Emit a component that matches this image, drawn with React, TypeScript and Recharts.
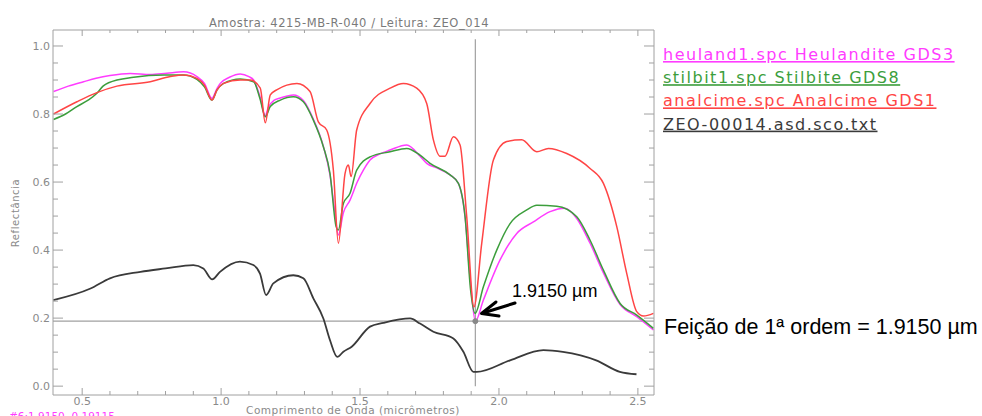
import React from 'react';
import { LineChart, Line, XAxis, YAxis, ReferenceLine, ReferenceDot } from 'recharts';

// ---------- data ----------
const heulandW = [0.397, 0.45, 0.505, 0.55, 0.6, 0.673, 0.745, 0.805, 0.865, 0.913, 0.94, 0.967, 0.985, 0.997, 1.03, 1.069, 1.1, 1.117, 1.14, 1.159, 1.17, 1.19, 1.213, 1.26, 1.296, 1.332, 1.368, 1.392, 1.408, 1.422, 1.44, 1.464, 1.49, 1.512, 1.536, 1.57, 1.608, 1.668, 1.716, 1.74, 1.78, 1.824, 1.854, 1.878, 1.898, 1.915, 1.944, 2.004, 2.064, 2.124, 2.184, 2.238, 2.28, 2.328, 2.376, 2.436, 2.496, 2.556];
const heulandR = [0.866, 0.882, 0.895, 0.905, 0.913, 0.919, 0.916, 0.92, 0.924, 0.91, 0.89, 0.846, 0.875, 0.89, 0.908, 0.918, 0.91, 0.9, 0.851, 0.795, 0.82, 0.84, 0.847, 0.856, 0.84, 0.785, 0.705, 0.62, 0.52, 0.444, 0.51, 0.547, 0.6, 0.635, 0.665, 0.682, 0.694, 0.709, 0.676, 0.655, 0.64, 0.621, 0.596, 0.498, 0.3, 0.191, 0.253, 0.371, 0.449, 0.483, 0.513, 0.523, 0.493, 0.42, 0.333, 0.24, 0.204, 0.165];

const stilbitW = [0.397, 0.44, 0.481, 0.52, 0.553, 0.575, 0.595, 0.685, 0.793, 0.865, 0.913, 0.94, 0.967, 0.985, 1.009, 1.069, 1.117, 1.14, 1.159, 1.177, 1.213, 1.26, 1.296, 1.332, 1.368, 1.392, 1.414, 1.422, 1.44, 1.464, 1.488, 1.536, 1.608, 1.668, 1.716, 1.752, 1.824, 1.854, 1.878, 1.898, 1.914, 1.944, 1.992, 2.04, 2.1, 2.136, 2.208, 2.28, 2.328, 2.376, 2.436, 2.496, 2.556];
const stilbitR = [0.784, 0.8, 0.822, 0.84, 0.861, 0.882, 0.892, 0.908, 0.915, 0.915, 0.902, 0.88, 0.841, 0.87, 0.89, 0.903, 0.895, 0.845, 0.792, 0.822, 0.841, 0.851, 0.836, 0.782, 0.704, 0.625, 0.469, 0.459, 0.537, 0.567, 0.635, 0.674, 0.689, 0.699, 0.679, 0.655, 0.621, 0.596, 0.498, 0.282, 0.214, 0.292, 0.4, 0.478, 0.518, 0.532, 0.529, 0.498, 0.429, 0.341, 0.243, 0.209, 0.17];

const analcimeW = [0.397, 0.481, 0.553, 0.625, 0.745, 0.817, 0.865, 0.913, 0.94, 0.967, 0.985, 1.009, 1.069, 1.105, 1.141, 1.159, 1.177, 1.2, 1.273, 1.32, 1.35, 1.38, 1.404, 1.422, 1.446, 1.458, 1.468, 1.488, 1.536, 1.608, 1.656, 1.704, 1.74, 1.764, 1.788, 1.806, 1.836, 1.86, 1.884, 1.91, 1.938, 1.98, 2.028, 2.082, 2.136, 2.178, 2.244, 2.328, 2.376, 2.424, 2.46, 2.496, 2.52, 2.556];
const analcimeR = [0.8, 0.836, 0.863, 0.882, 0.895, 0.91, 0.915, 0.905, 0.885, 0.841, 0.87, 0.89, 0.9, 0.9, 0.876, 0.774, 0.856, 0.871, 0.89, 0.866, 0.777, 0.753, 0.635, 0.42, 0.625, 0.65, 0.616, 0.753, 0.831, 0.876, 0.89, 0.876, 0.831, 0.724, 0.676, 0.676, 0.733, 0.709, 0.498, 0.233, 0.42, 0.665, 0.719, 0.724, 0.689, 0.699, 0.684, 0.64, 0.596, 0.469, 0.331, 0.219, 0.206, 0.214];

const sampleW = [0.396, 0.53, 0.6, 0.71, 0.8, 0.9, 0.936, 0.968, 0.996, 1.068, 1.116, 1.14, 1.162, 1.188, 1.26, 1.296, 1.332, 1.368, 1.392, 1.418, 1.44, 1.47, 1.536, 1.584, 1.68, 1.716, 1.764, 1.836, 1.872, 1.908, 1.92, 2.04, 2.16, 2.23, 2.35, 2.435, 2.495];
const sampleR = [0.253, 0.287, 0.317, 0.336, 0.346, 0.356, 0.346, 0.314, 0.336, 0.366, 0.356, 0.331, 0.268, 0.302, 0.326, 0.317, 0.258, 0.199, 0.135, 0.086, 0.101, 0.116, 0.175, 0.186, 0.199, 0.184, 0.16, 0.14, 0.101, 0.042, 0.042, 0.076, 0.106, 0.101, 0.076, 0.042, 0.035];

const xTicks = [0.5, 0.6, 0.7, 0.8, 0.9, 1.0, 1.1, 1.2, 1.3, 1.4, 1.5, 1.6, 1.7, 1.8, 1.9, 2.0, 2.1, 2.2, 2.3, 2.4, 2.5];
const yTicks = [0, 0.05, 0.1, 0.15, 0.2, 0.25, 0.3, 0.35, 0.4, 0.45, 0.5, 0.55, 0.6, 0.65, 0.7, 0.75, 0.8, 0.85, 0.9, 0.95, 1.0];

const featureW = 1.915;
const featureR = 0.19115;
const featureTop = 1.02;

const titleText = 'Amostra: 4215-MB-R-040 / Leitura: ZEO_014';
const xTitle = 'Comprimento de Onda (micrômetros)';
const yTitle = 'Reflectância';
const cursorText = '#6:1.9150, 0.19115';
const legendLabels = ['heuland1.spc Heulandite GDS3', 'stilbit1.spc Stilbite GDS8', 'analcime.spc Analcime GDS1', 'ZEO-00014.asd.sco.txt'];
const annotText = '1.9150 µm';
const featureText = 'Feição de 1ª ordem = 1.9150 µm';

// ---------- styles ----------
const COLORS = ['#ff3cff', '#3c9e3c', '#ff4545', '#3a3a3a'];
const AXIS = '#a0a0a0';
const LABEL = '#8a8a8a';
const VFONT = '"DejaVu Sans", sans-serif';

const zip = (w: number[], r: number[]) => w.map((v, i) => ({ w: v, r: r[i] }));
const series = [
  { name: 'heuland', data: zip(heulandW, heulandR) },
  { name: 'stilbit', data: zip(stilbitW, stilbitR) },
  { name: 'analcime', data: zip(analcimeW, analcimeR) },
  { name: 'sample', data: zip(sampleW, sampleR) },
];

const isXMajor = (v: number) => Math.abs(v * 2 - Math.round(v * 2)) < 1e-6;
const isYMajor = (v: number) => Math.abs(v * 5 - Math.round(v * 5)) < 1e-6;

const BottomTick = (p: any) => {
  const v = p.payload.value;
  const m = isXMajor(v);
  return (
    <g>
      <line x1={p.x} x2={p.x} y1={p.y} y2={p.y - (m ? 7 : 4)} stroke={AXIS} />
      {m && (
        <text x={p.x} y={p.y + 10} textAnchor="middle" fontSize={11} fill={LABEL} fontFamily={VFONT}>
          {v.toFixed(1)}
        </text>
      )}
    </g>
  );
};
const TopTick = (p: any) => {
  const m = isXMajor(p.payload.value);
  return <line x1={p.x} x2={p.x} y1={p.y} y2={p.y + (m ? 6 : 3)} stroke={AXIS} />;
};
const LeftTick = (p: any) => {
  const v = p.payload.value;
  const m = isYMajor(v);
  return (
    <g>
      <line x1={p.x} x2={p.x + (m ? 10 : 5)} y1={p.y} y2={p.y} stroke={AXIS} />
      {m && (
        <text x={p.x - 3} y={p.y + 4} textAnchor="end" fontSize={11} fill={LABEL} fontFamily={VFONT}>
          {v.toFixed(1)}
        </text>
      )}
    </g>
  );
};
const RightTick = (p: any) => {
  const m = isYMajor(p.payload.value);
  return <line x1={p.x} x2={p.x - (m ? 10 : 5)} y1={p.y} y2={p.y} stroke={AXIS} />;
};

export default function App() {
  return (
    <div style={{ position: 'absolute', left: 0, top: 0, width: 982, height: 416, overflow: 'hidden', background: '#fff' }}>
      <LineChart width={982} height={416} margin={{ top: 20, right: 318, bottom: 0, left: 0 }}>
        <XAxis
          xAxisId="b"
          type="number"
          dataKey="w"
          domain={[0.395, 2.558]}
          allowDataOverflow
          ticks={xTicks}
          interval={0}
          height={21}
          tickSize={0}
          tickMargin={0}
          tickLine={false}
          axisLine={{ stroke: AXIS }}
          tick={BottomTick}
        />
        <XAxis
          xAxisId="t"
          orientation="top"
          type="number"
          dataKey="w"
          domain={[0.395, 2.558]}
          allowDataOverflow
          ticks={xTicks}
          interval={0}
          height={10}
          tickSize={0}
          tickMargin={0}
          tickLine={false}
          axisLine={{ stroke: AXIS }}
          tick={TopTick}
        />
        <YAxis
          yAxisId="l"
          type="number"
          domain={[-0.026, 1.047]}
          allowDataOverflow
          ticks={yTicks}
          interval={0}
          width={53}
          tickSize={0}
          tickMargin={0}
          tickLine={false}
          axisLine={{ stroke: AXIS }}
          tick={LeftTick}
        />
        <YAxis
          yAxisId="r"
          orientation="right"
          type="number"
          domain={[-0.026, 1.047]}
          allowDataOverflow
          ticks={yTicks}
          interval={0}
          width={10}
          tickSize={0}
          tickMargin={0}
          tickLine={false}
          axisLine={{ stroke: AXIS }}
          tick={RightTick}
        />
        <ReferenceLine xAxisId="b" yAxisId="l" y={featureR} stroke={AXIS} strokeWidth={1.2} />
        <ReferenceLine
          xAxisId="b"
          yAxisId="l"
          segment={[{ x: featureW, y: 0 }, { x: featureW, y: featureTop }]}
          stroke={AXIS}
          strokeWidth={1.2}
        />
        {series.map((s, i) => (
          <Line
            key={s.name}
            xAxisId="b"
            yAxisId="l"
            data={s.data}
            dataKey="r"
            type="monotone"
            stroke={COLORS[i]}
            strokeWidth={i === 3 ? 1.8 : 1.5}
            dot={false}
            isAnimationActive={false}
          />
        ))}
        <ReferenceDot xAxisId="b" yAxisId="l" x={featureW} y={featureR} r={2.5} fill="#888" stroke="#888" />
      </LineChart>
      <svg width={982} height={416} style={{ position: 'absolute', left: 0, top: 0, pointerEvents: 'none' }}>
        <text x={349} y={26.5} textAnchor="middle" fontSize={11.5} letterSpacing={0.6} fill="#7a7a7a" fontFamily={VFONT}>
          {titleText}
        </text>
        <text x={353} y={414} textAnchor="middle" fontSize={10.5} letterSpacing={0.5} fill={LABEL} fontFamily={VFONT}>
          {xTitle}
        </text>
        <text
          x={18.5}
          y={213}
          textAnchor="middle"
          fontSize={10}
          letterSpacing={0.6}
          fill={LABEL}
          fontFamily={VFONT}
          transform="rotate(-90 18.5 213)"
        >
          {yTitle}
        </text>
        <text x={9} y={420} fontSize={10.5} fill="#ff3cff" fontFamily={VFONT}>
          {cursorText}
        </text>
        {legendLabels.map((l, i) => (
          <text
            key={l}
            x={663}
            y={60 + i * 23.2}
            fontSize={16}
            letterSpacing={1.5}
            fill={COLORS[i]}
            fontFamily={VFONT}
            textDecoration="underline"
          >
            {l}
          </text>
        ))}
        <text x={512} y={297} fontSize={18} fill="#000" fontFamily='"Liberation Sans", Arial, sans-serif'>
          {annotText}
        </text>
        <line x1={515} y1={303} x2={483} y2={313} stroke="#000" strokeWidth={3} strokeLinecap="round" />
        <polyline points="496,302 481.5,313.5 499,316" fill="none" stroke="#000" strokeWidth={3} strokeLinecap="round" strokeLinejoin="round" />
        <text x={664} y={334} fontSize={21.5} fill="#000" fontFamily='"Liberation Sans", Arial, sans-serif'>
          {featureText}
        </text>
      </svg>
    </div>
  );
}
